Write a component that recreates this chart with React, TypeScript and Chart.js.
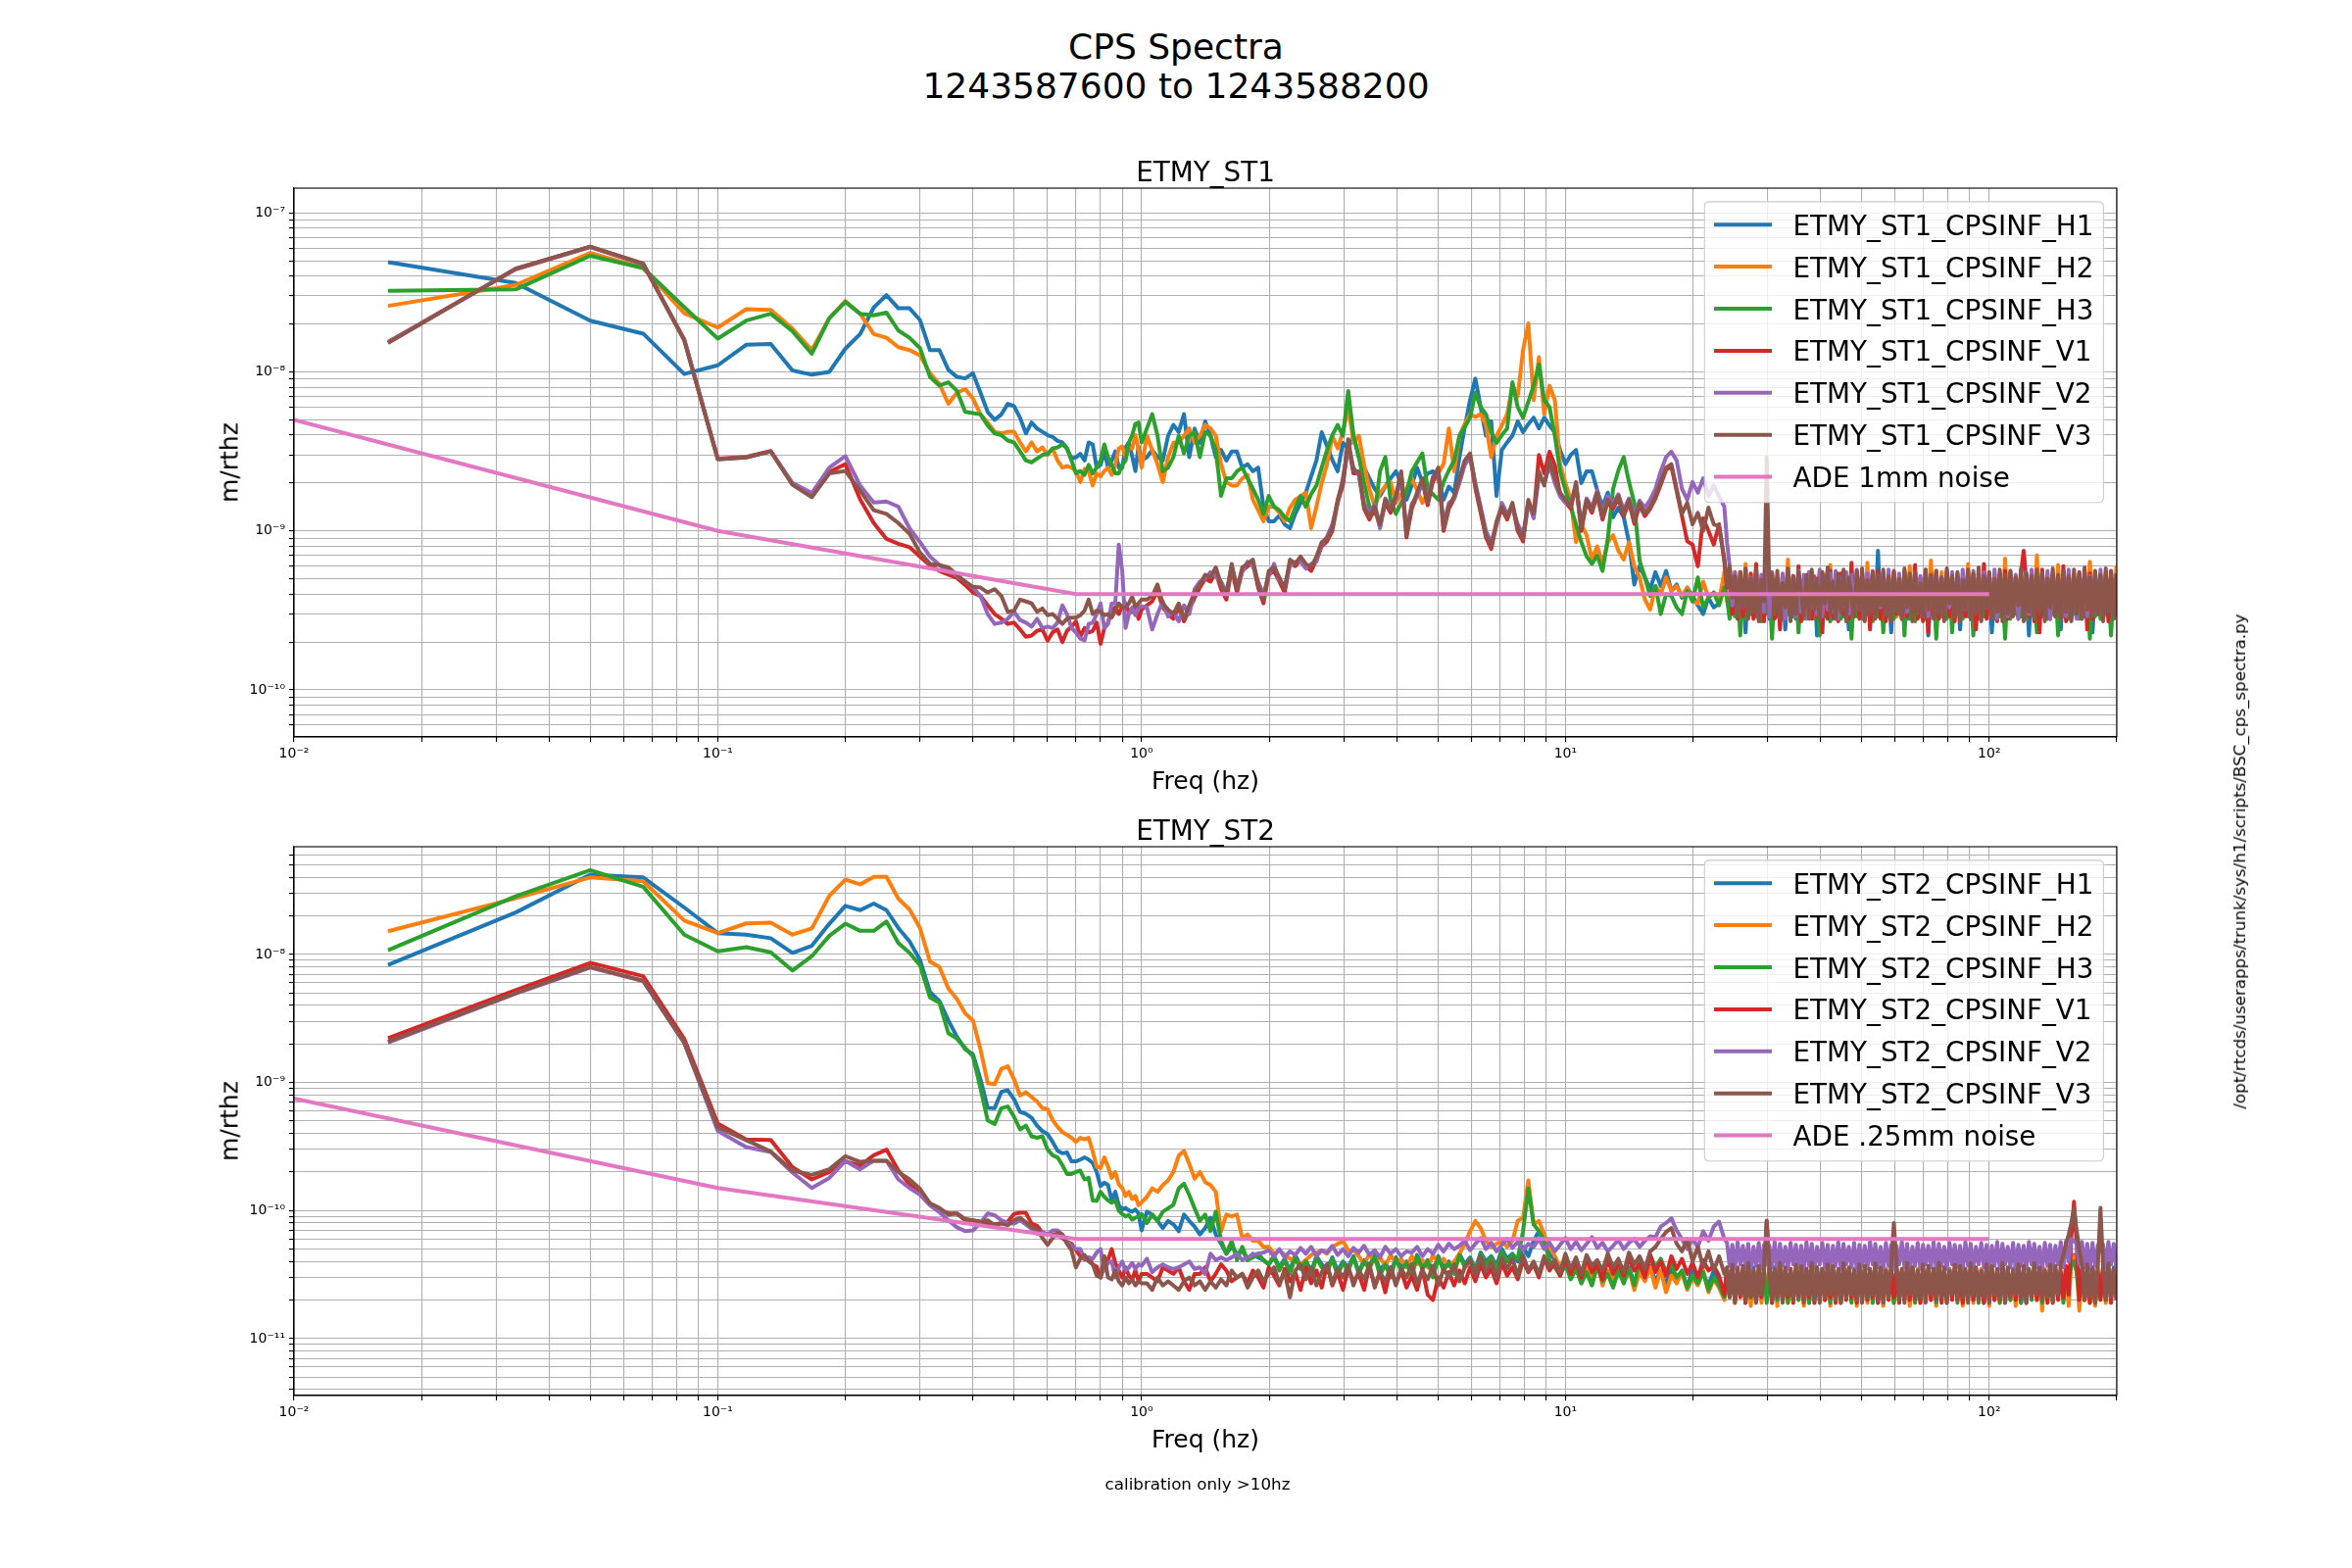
import React, { useEffect, useRef } from "react";
import { Chart, registerables } from "chart.js";

Chart.register(...registerables);

const FONT = "'DejaVu Sans', 'Liberation Sans', sans-serif";

// ---------- frequency grids ----------
// below 1 Hz: native FFT bins of 1/60 Hz
const LF_BINS = 60;
const LF_FREQ = Array.from({ length: LF_BINS }, (_, i) => (i + 1) / 60);
// 1 Hz .. 23.7 Hz: 80 samples per decade
const MID_PER_DECADE = 80;
const MID_COUNT = 110;
const MID_FREQ = Array.from({ length: MID_COUNT }, (_, i) => Math.pow(10, (i + 1) / MID_PER_DECADE));
// 23.7 Hz .. 200 Hz: 160 samples per decade (dense noise floor)
const BAND_PER_DECADE = 160;
const BAND_COUNT = 148;
const BAND_START = MID_COUNT / MID_PER_DECADE;
const BAND_FREQ = Array.from({ length: BAND_COUNT }, (_, i) => Math.pow(10, BAND_START + (i + 1) / BAND_PER_DECADE));

const ST1_UNIT = 1e-11; // ST1 values are in units of 1e-11 m/rthz
const ST2_UNIT = 1e-12; // ST2 values are in units of 1e-12 m/rthz

// ================= ETMY_ST1 =================
const ST1_H1_LF = [
  4900, 3620, 2100, 1740, 970, 1100, 1480, 1500, 1020, 960,
  1000, 1400, 1730, 2540, 3040, 2510, 2510, 2120, 1370, 1370,
  1030, 930, 910, 980, 740, 560, 500, 540, 630, 610,
  514, 410, 480, 440, 420, 400, 390, 368, 360, 330,
  285, 290, 305, 277, 360, 350, 250, 260, 316, 250,
  277, 316, 250, 250, 335, 360, 295, 238, 340, 277,
];
const ST1_H1_MID = [
  291, 323, 291, 277, 397, 464, 418, 542, 291, 440,
  358, 489, 397, 291, 323, 277, 315, 315, 250, 263,
  237, 250, 142, 115, 115, 125, 110, 104, 128, 150,
  174, 220, 277, 418, 341, 280, 237, 358, 330, 397,
  291, 250, 214, 184, 166, 190, 214, 237, 200, 157,
  193, 250, 203, 230, 237, 214, 157, 190, 174, 291,
  450, 665, 907, 600, 397, 489, 166, 323, 360, 397,
  489, 418, 470, 515, 441, 515, 460, 418, 323, 263,
  300, 323, 200, 237, 237, 180, 142, 174, 122, 140,
  122, 85, 46, 60, 51, 43, 55, 45, 56, 42,
  46, 38, 44, 39, 34, 30, 38, 33, 35, 50,
];
const ST1_H1_BAND = [
  40, 29, 48, 30, 46, 28, 47, 23, 45, 30,
  48, 29, 46, 31, 49, 50, 28, 47, 30, 45,
  29, 48, 24, 46, 30, 49, 28, 45, 31, 47,
  29, 46, 30, 48, 22, 50, 29, 46, 30, 47,
  28, 49, 30, 46, 29, 48, 24, 47, 30, 45,
  29, 48, 31, 46, 28, 49, 30, 75, 29, 47,
  30, 46, 23, 48, 29, 47, 30, 45, 28, 49,
  31, 46, 29, 48, 30, 47, 22, 46, 29, 48,
  30, 45, 28, 47, 31, 49, 29, 46, 24, 48,
  30, 46, 29, 49, 28, 47, 30, 45, 31, 48,
  23, 47, 29, 46, 30, 48, 28, 49, 30, 45,
  29, 47, 31, 46, 22, 48, 30, 47, 29, 46,
  30, 49, 28, 46, 29, 47, 24, 48, 30, 45,
  29, 48, 30, 46, 28, 47, 31, 49, 23, 46,
  30, 47, 29, 48, 30, 46, 28, 47,
];
const ST1_H2_LF = [
  2600, 3520, 5600, 4500, 2340, 1900, 2480, 2450, 1870, 1370,
  2180, 2790, 2320, 1730, 1640, 1430, 1370, 1270, 980, 840,
  630, 740, 780, 680, 540, 480, 420, 410, 420, 420,
  360, 316, 360, 316, 335, 300, 330, 277, 250, 255,
  250, 238, 203, 245, 238, 193, 230, 220, 238, 250,
  225, 260, 330, 340, 290, 335, 330, 400, 330, 250,
];
const ST1_H2_MID = [
  397, 323, 263, 203, 291, 358, 358, 397, 441, 358,
  397, 464, 441, 397, 263, 203, 193, 193, 214, 225,
  157, 135, 115, 142, 142, 130, 115, 140, 157, 165,
  174, 104, 142, 200, 263, 397, 330, 418, 600, 358,
  397, 260, 184, 142, 174, 190, 203, 150, 170, 184,
  214, 180, 150, 174, 203, 230, 263, 441, 237, 397,
  470, 542, 520, 542, 464, 291, 397, 460, 542, 818,
  700, 1370, 2016, 665, 1235, 542, 818, 665, 263, 200,
  157, 85, 110, 94, 66, 80, 62, 85, 94, 75,
  66, 85, 60, 51, 37, 32, 45, 40, 51, 42,
  45, 39, 44, 36, 35, 48, 38, 41, 36, 55,
];
const ST1_H2_BAND = [
  36, 52, 31, 55, 30, 50, 31, 62, 30, 53,
  31, 54, 29, 51, 30, 55, 29, 52, 31, 49,
  30, 53, 31, 66, 29, 51, 30, 54, 29, 50,
  31, 55, 30, 52, 29, 48, 31, 53, 30, 61,
  29, 51, 31, 54, 30, 50, 29, 55, 31, 52,
  30, 49, 29, 63, 31, 53, 30, 51, 29, 54,
  31, 50, 30, 55, 29, 52, 31, 48, 30, 60,
  29, 53, 31, 51, 30, 54, 29, 65, 31, 50,
  30, 55, 29, 52, 31, 49, 30, 54, 29, 51,
  31, 62, 30, 53, 29, 50, 31, 55, 30, 52,
  29, 54, 31, 51, 30, 67, 29, 53, 31, 49,
  30, 55, 29, 52, 31, 50, 30, 70, 29, 54,
  31, 51, 30, 53, 29, 61, 31, 50, 30, 55,
  29, 52, 31, 54, 30, 49, 29, 64, 31, 53,
  30, 50, 29, 55, 31, 52, 30, 60,
];
const ST1_H3_LF = [
  3240, 3300, 5370, 4500, 2550, 1620, 2100, 2320, 1800, 1300,
  2180, 2750, 2320, 2270, 2360, 1820, 1640, 1410, 930, 820,
  860, 760, 560, 550, 540, 460, 410, 400, 370, 360,
  316, 277, 270, 285, 300, 305, 330, 335, 350, 330,
  277, 230, 238, 225, 260, 230, 250, 277, 350, 290,
  260, 230, 230, 260, 277, 360, 400, 470, 480, 360,
];
const ST1_H3_MID = [
  441, 542, 397, 237, 250, 291, 397, 307, 397, 418,
  291, 418, 397, 323, 166, 214, 214, 237, 250, 214,
  184, 157, 128, 166, 142, 135, 122, 115, 140, 166,
  142, 170, 193, 250, 323, 400, 464, 397, 757, 397,
  291, 200, 142, 128, 237, 291, 157, 128, 150, 174,
  237, 270, 307, 184, 170, 157, 203, 240, 277, 397,
  450, 515, 738, 600, 542, 418, 358, 400, 441, 861,
  600, 515, 650, 818, 1114, 665, 600, 397, 237, 180,
  142, 110, 85, 69, 62, 70, 56, 89, 184, 240,
  291, 203, 150, 65, 51, 39, 45, 30, 40, 39,
  33, 30, 42, 36, 51, 33, 38, 41, 34, 44,
];
const ST1_H3_BAND = [
  38, 28, 46, 29, 44, 22, 45, 28, 47, 30,
  44, 29, 48, 27, 46, 30, 43, 21, 47, 29,
  45, 28, 46, 30, 44, 29, 47, 23, 45, 28,
  46, 30, 43, 28, 47, 22, 45, 29, 48, 27,
  44, 29, 46, 28, 45, 30, 47, 21, 43, 29,
  47, 28, 45, 30, 46, 27, 44, 29, 48, 23,
  45, 29, 47, 28, 43, 30, 46, 22, 45, 28,
  47, 27, 44, 29, 46, 28, 45, 30, 47, 21,
  43, 29, 46, 28, 45, 23, 47, 30, 44, 28,
  48, 29, 45, 22, 46, 28, 43, 29, 47, 30,
  45, 28, 46, 29, 44, 21, 47, 28, 45, 30,
  46, 29, 43, 28, 47, 30, 45, 23, 48, 29,
  44, 28, 46, 30, 45, 22, 47, 29, 43, 28,
  47, 30, 45, 28, 46, 29, 44, 21, 48, 29,
  45, 28, 47, 30, 43, 22, 46, 29,
];
const ST1_V1_LF = [
  1540, 4420, 6100, 4750, 1600, 285, 292, 318, 198, 165,
  235, 263, 158, 112, 89, 83, 79, 69, 60.7, 56,
  53, 50.6, 45.7, 41, 39, 34, 30, 28, 26, 26.5,
  24, 21.6, 22, 23.5, 24, 20.4, 23, 24, 20, 23.5,
  25, 27, 21.6, 24.5, 23, 23.5, 26.5, 19.5, 24.5, 26.5,
  31.5, 33, 30, 33.5, 35, 31, 31, 34, 28, 32,
];
const ST1_V1_MID = [
  34, 36, 42, 33, 30, 28, 33, 27, 32, 38,
  44, 50, 48, 55, 43, 37, 58, 41, 56, 60,
  63, 44, 35, 53, 56, 48, 41, 63, 60, 66,
  60, 56, 66, 80, 86, 100, 150, 195, 350, 230,
  230, 138, 118, 138, 106, 150, 130, 160, 230, 91,
  138, 168, 206, 145, 206, 240, 100, 138, 160, 206,
  268, 296, 186, 130, 91, 77, 111, 138, 118, 145,
  100, 86, 152, 124, 300, 230, 315, 260, 168, 152,
  138, 196, 100, 152, 130, 168, 118, 152, 138, 160,
  124, 152, 111, 145, 124, 138, 160, 196, 242, 255,
  178, 124, 86, 82, 60, 120, 100, 82, 110, 64,
];
const ST1_V1_BAND = [
  44, 53, 30, 51, 28, 55, 29, 49, 30, 54,
  28, 62, 29, 50, 27, 120, 30, 53, 28, 51,
  24, 50, 29, 54, 28, 52, 30, 60, 27, 49,
  30, 53, 28, 51, 29, 55, 23, 52, 28, 56,
  29, 50, 27, 54, 30, 48, 28, 63, 29, 51,
  28, 55, 30, 49, 24, 53, 29, 56, 28, 50,
  27, 52, 29, 54, 30, 48, 28, 55, 29, 51,
  30, 61, 28, 50, 27, 53, 23, 49, 29, 54,
  28, 51, 30, 56, 29, 48, 27, 53, 28, 50,
  29, 55, 28, 52, 24, 49, 30, 62, 28, 54,
  30, 50, 27, 53, 29, 56, 28, 48, 30, 52,
  28, 54, 75, 49, 29, 55, 27, 51, 23, 57,
  29, 50, 28, 53, 30, 48, 29, 60, 27, 52,
  28, 49, 30, 55, 29, 51, 24, 54, 28, 50,
  30, 53, 28, 49, 27, 56, 29, 51,
];
const ST1_V2_LF = [
  1530, 4450, 6120, 4780, 1590, 283, 290, 316, 200, 173,
  250, 295, 193, 151, 153, 142, 104, 85, 69, 61,
  56, 52, 48, 44, 39, 30, 26, 26.5, 28, 31,
  27.5, 26.5, 25, 28, 24.5, 25, 24.5, 26.5, 34, 30,
  24.5, 23, 21, 20.5, 26, 26.5, 30, 35, 24.5, 26,
  35, 35, 82, 56, 24.5, 30, 33, 29.5, 33, 33.5,
];
const ST1_V2_MID = [
  33, 24, 30, 36, 29, 31, 27, 34, 30, 43,
  48, 50, 55, 52, 48, 41, 60, 45, 55, 64,
  60, 48, 40, 52, 62, 49, 45, 60, 64, 64,
  58, 62, 64, 82, 92, 110, 150, 215, 330, 250,
  225, 150, 128, 148, 104, 160, 140, 158, 220, 100,
  148, 165, 200, 160, 220, 235, 110, 150, 158, 200,
  260, 290, 200, 142, 100, 85, 108, 150, 128, 140,
  110, 95, 150, 120, 220, 200, 260, 200, 165, 150,
  150, 190, 110, 160, 140, 180, 128, 165, 150, 170,
  135, 160, 125, 155, 140, 157, 184, 237, 291, 315,
  277, 184, 157, 203, 174, 214, 166, 193, 165, 142,
];
const ST1_V2_BAND = [
  85, 60, 34, 55, 30, 52, 33, 56, 29, 51,
  32, 57, 28, 53, 31, 120, 29, 55, 33, 50,
  30, 54, 28, 57, 32, 51, 29, 56, 31, 53,
  28, 55, 33, 50, 30, 57, 29, 52, 32, 54,
  31, 56, 28, 51, 33, 55, 30, 53, 29, 57,
  32, 50, 28, 54, 31, 56, 29, 52, 33, 55,
  30, 57, 28, 51, 32, 54, 29, 56, 31, 50,
  28, 55, 33, 52, 30, 57, 29, 53, 32, 56,
  31, 51, 28, 54, 33, 55, 30, 50, 29, 57,
  32, 53, 28, 56, 31, 52, 29, 55, 33, 51,
  30, 57, 28, 54, 32, 50, 29, 56, 31, 53,
  28, 52, 33, 55, 30, 57, 29, 51, 32, 54,
  31, 56, 28, 53, 33, 50, 30, 55, 29, 57,
  32, 51, 28, 54, 31, 56, 29, 52, 33, 55,
  30, 57, 28, 53, 32, 50, 29, 54,
];
const ST1_V3_LF = [
  1520, 4460, 6140, 4800, 1580, 282, 290, 316, 195, 163,
  230, 238, 179, 135, 128, 112, 96, 73, 62, 61,
  59, 53, 48, 44.5, 44, 41, 43, 39, 31, 31.5,
  37, 36, 35, 31, 32.5, 29.5, 30, 28, 26, 28,
  28.5, 28.5, 29.5, 31.5, 37, 30, 31.5, 31, 29.5, 30,
  28.5, 31.5, 35, 33, 33, 35, 38.5, 33.5, 35, 37,
];
const ST1_V3_MID = [
  37, 39, 46, 35, 32, 30, 35, 28, 34, 41,
  46, 53, 51, 59, 46, 39, 62, 43, 59, 62,
  66, 46, 37, 56, 59, 51, 43, 66, 62, 69,
  62, 59, 69, 85, 89, 104, 157, 203, 377, 237,
  237, 142, 122, 142, 110, 157, 135, 166, 237, 94,
  142, 174, 214, 150, 214, 250, 104, 142, 166, 214,
  277, 307, 193, 135, 94, 80, 115, 142, 122, 150,
  104, 89, 157, 128, 237, 193, 277, 214, 174, 157,
  142, 203, 104, 157, 135, 174, 122, 157, 142, 166,
  128, 157, 115, 150, 128, 142, 166, 203, 250, 263,
  184, 128, 150, 110, 130, 100, 140, 110, 107, 67,
];
const ST1_V3_BAND = [
  45, 60, 38, 52, 29, 55, 33, 58, 28, 50,
  31, 57, 27, 49, 36, 290, 40, 54, 30, 56,
  28, 47, 33, 58, 27, 52, 30, 55, 41, 29,
  53, 28, 57, 32, 50, 27, 55, 35, 59, 30,
  48, 28, 54, 31, 57, 27, 51, 38, 29, 56,
  32, 58, 27, 49, 30, 55, 28, 53, 34, 57,
  29, 52, 27, 56, 31, 50, 28, 58, 33, 54,
  27, 55, 30, 47, 29, 57, 32, 53, 28, 56,
  30, 51, 27, 58, 35, 52, 29, 55, 27, 49,
  32, 57, 28, 54, 30, 59, 27, 52, 33, 55,
  28, 50, 31, 57, 27, 53, 30, 56, 29, 51,
  34, 58, 27, 54, 31, 52, 28, 57, 30, 55,
  27, 50, 33, 58, 29, 53, 28, 56, 31, 52,
  27, 57, 30, 54, 28, 59, 32, 51, 29, 56,
  30, 53, 27, 58, 31, 55, 28, 54,
];

// ================= ETMY_ST2 =================
const ST2_H1_LF = [
  8300, 21300, 42000, 40000, 23300, 14700, 14300, 13400, 10300, 11700,
  17400, 24000, 22200, 25000, 22200, 16100, 12700, 9060, 5100, 4340,
  3050, 2280, 1820, 1660, 1060, 633, 630, 845, 870, 740,
  590, 570, 530, 460, 417, 395, 344, 293, 280, 285,
  242, 242, 250, 260, 250, 235, 200, 155, 165, 158,
  120, 140, 110, 102, 105, 100, 98, 102, 95, 70,
];
const ST2_H1_MID = [
  98, 93, 83, 73, 83, 78, 69, 93, 83, 75,
  65, 73, 88, 65, 55, 46, 52, 46, 49, 41,
  46, 43, 41, 38, 44, 36, 42, 34, 45, 37,
  41, 33, 44, 38, 35, 43, 34, 40, 36, 44,
  33, 41, 37, 45, 34, 39, 32, 43, 36, 40,
  34, 45, 37, 41, 33, 44, 36, 40, 34, 46,
  38, 43, 35, 47, 40, 44, 37, 50, 42, 46,
  40, 52, 44, 58, 69, 55, 47, 41, 34, 38,
  30, 36, 28, 34, 27, 38, 30, 33, 26, 35,
  29, 36, 27, 33, 30, 37, 28, 34, 26, 36,
  28, 33, 25, 35, 29, 32, 26, 34, 28, 22,
];
const ST2_H1_BAND = [
  34, 22, 36, 20, 33, 23, 35, 21, 32, 22,
  36, 20, 34, 23, 33, 21, 35, 19, 36, 22,
  33, 20, 35, 22, 34, 21, 32, 23, 36, 20,
  35, 19, 33, 22, 36, 21, 34, 20, 32, 23,
  36, 22, 33, 19, 35, 21, 34, 23, 33, 20,
  32, 21, 36, 22, 34, 20, 35, 19, 33, 22,
  35, 23, 32, 20, 36, 21, 33, 22, 34, 19,
  36, 20, 34, 23, 33, 21, 35, 22, 32, 20,
  34, 22, 36, 19, 35, 21, 33, 23, 36, 20,
  33, 21, 35, 22, 32, 20, 34, 19, 36, 23,
  35, 20, 33, 22, 36, 21, 34, 20, 32, 22,
  36, 19, 35, 23, 33, 21, 34, 22, 35, 20,
  32, 22, 36, 20, 34, 23, 33, 21, 36, 30,
  40, 45, 38, 21, 35, 20, 33, 22, 36, 19,
  34, 23, 35, 20, 33, 22, 36, 21,
];
const ST2_H2_LF = [
  15200, 27500, 40000, 37300, 18400, 14700, 17500, 17700, 14300, 16000,
  28800, 38400, 35300, 40400, 40400, 27300, 22500, 16100, 8800, 7980,
  5430, 4480, 3470, 3050, 1820, 990, 970, 1280, 1340, 1060,
  790, 840, 770, 710, 630, 620, 510, 450, 410, 390,
  370, 344, 370, 360, 370, 290, 220, 215, 260, 220,
  180, 200, 160, 150, 130, 140, 123, 130, 110, 116,
];
const ST2_H2_MID = [
  128, 149, 140, 158, 172, 200, 268, 292, 231, 177,
  200, 167, 158, 140, 69, 93, 90, 93, 61, 65,
  58, 58, 52, 52, 46, 49, 45, 42, 41, 38,
  41, 45, 47, 49, 46, 52, 55, 58, 49, 49,
  44, 38, 46, 40, 43, 37, 45, 39, 42, 36,
  44, 38, 41, 36, 45, 39, 42, 37, 40, 46,
  55, 69, 83, 73, 58, 52, 55, 58, 52, 58,
  83, 88, 172, 78, 83, 65, 52, 44, 36, 42,
  33, 38, 27, 36, 30, 40, 26, 34, 29, 38,
  27, 35, 24, 33, 28, 36, 25, 34, 23, 31,
  27, 33, 24, 30, 26, 34, 23, 29, 25, 20,
];
const ST2_H2_BAND = [
  33, 21, 35, 19, 32, 22, 34, 20, 36, 18,
  32, 21, 35, 19, 33, 22, 31, 20, 34, 18,
  36, 21, 32, 19, 35, 22, 33, 20, 31, 18,
  34, 21, 36, 19, 32, 22, 35, 20, 33, 18,
  31, 21, 34, 19, 36, 22, 32, 20, 35, 18,
  33, 21, 31, 19, 34, 22, 36, 20, 32, 18,
  35, 21, 33, 19, 31, 22, 34, 20, 36, 18,
  32, 21, 35, 19, 33, 22, 31, 20, 34, 18,
  36, 21, 32, 19, 35, 22, 33, 20, 31, 18,
  34, 21, 36, 19, 32, 22, 35, 20, 33, 18,
  31, 21, 34, 19, 36, 22, 32, 20, 35, 18,
  33, 21, 31, 19, 34, 22, 36, 20, 32, 16.5,
  35, 21, 33, 19, 31, 22, 34, 20, 36, 18,
  40, 44, 35, 16.5, 33, 20, 34, 19, 31, 18,
  35, 21, 33, 19, 34, 22, 32, 20,
];
const ST2_H3_LF = [
  10800, 28500, 45700, 33800, 14300, 10600, 11400, 10400, 7500, 9700,
  14000, 17400, 15300, 15300, 18100, 12300, 10300, 8240, 4630, 4200,
  2430, 2200, 1860, 1600, 900, 506, 474, 630, 650, 540,
  430, 460, 380, 370, 380, 300, 270, 260, 227, 193,
  193, 200, 205, 175, 180, 120, 119, 140, 128, 120,
  115, 120, 100, 94, 90, 92, 85, 88, 90, 94,
];
const ST2_H3_MID = [
  80, 93, 83, 98, 104, 111, 149, 162, 132, 104,
  83, 93, 69, 98, 58, 46, 58, 41, 52, 41,
  43, 46, 41, 38, 44, 34, 41, 32, 43, 35,
  40, 31, 43, 36, 33, 42, 31, 39, 34, 43,
  32, 40, 35, 44, 31, 38, 30, 42, 34, 39,
  31, 44, 35, 40, 30, 43, 34, 39, 32, 45,
  36, 42, 33, 46, 38, 43, 35, 48, 40, 45,
  42, 69, 149, 78, 69, 58, 41, 36, 31, 38,
  29, 35, 27, 33, 26, 37, 28, 32, 25, 34,
  27, 35, 26, 41, 34, 45, 36, 42, 33, 38,
  30, 34, 25, 31, 27, 33, 24, 30, 26, 21,
];
const ST2_H3_BAND = [
  32, 21, 34, 20, 31, 22, 33, 19, 35, 21,
  31, 20, 33, 22, 34, 19, 32, 21, 35, 20,
  33, 22, 31, 19, 34, 21, 32, 20, 35, 22,
  31, 19, 33, 21, 34, 20, 32, 22, 35, 19,
  33, 21, 31, 20, 34, 22, 32, 19, 35, 21,
  31, 20, 33, 22, 34, 19, 32, 21, 35, 20,
  33, 22, 31, 19, 34, 21, 32, 20, 35, 22,
  31, 19, 33, 21, 34, 20, 32, 22, 35, 19,
  33, 21, 31, 20, 34, 22, 32, 19, 35, 21,
  31, 20, 33, 22, 34, 19, 32, 21, 35, 20,
  33, 22, 31, 19, 34, 21, 32, 20, 35, 22,
  31, 19, 33, 21, 34, 20, 32, 22, 35, 19,
  33, 21, 31, 20, 34, 22, 32, 19, 35, 28,
  38, 40, 33, 21, 32, 20, 34, 22, 31, 19,
  33, 21, 35, 20, 32, 22, 34, 21,
];
const ST2_V1_LF = [
  2220, 5270, 8600, 6770, 2190, 479, 359, 355, 218, 175,
  200, 242, 225, 270, 299, 206, 160, 136, 112, 102,
  95, 95, 84, 84, 82, 80, 78, 80, 82, 94,
  96, 96, 79, 76, 67, 65, 65, 65, 61, 57,
  55, 49, 44, 41.5, 43, 38, 36.5, 30, 36.5, 41.5,
  50, 39, 34, 30, 36, 31, 29, 34, 28, 32,
];
const ST2_V1_MID = [
  32, 30, 28, 36, 34, 32, 36, 28, 24, 32,
  32, 36, 28, 32, 38, 34, 28, 30, 32, 27,
  34, 30, 25, 36, 31, 26, 35, 28, 33, 24,
  36, 27, 34, 25, 38, 26, 33, 24, 35, 28,
  32, 24, 37, 26, 33, 23, 36, 27, 34, 25,
  31, 24, 35, 22, 20, 30, 25, 33, 26, 34,
  27, 36, 28, 38, 30, 35, 27, 39, 31, 36,
  29, 41, 33, 38, 30, 42, 34, 39, 31, 43,
  32, 40, 30, 42, 33, 38, 29, 41, 32, 39,
  31, 42, 34, 38, 30, 45, 33, 40, 31, 44,
  35, 42, 32, 39, 30, 41, 34, 37, 31, 22,
];
const ST2_V1_BAND = [
  35, 22, 33, 20, 36, 21, 34, 19, 37, 22,
  33, 20, 35, 21, 34, 83, 36, 19, 33, 22,
  37, 20, 34, 21, 35, 19, 33, 22, 36, 20,
  34, 21, 37, 19, 33, 22, 35, 20, 36, 21,
  33, 19, 34, 22, 37, 20, 35, 21, 33, 19,
  36, 22, 34, 20, 33, 21, 37, 19, 35, 22,
  33, 20, 36, 21, 34, 19, 33, 22, 37, 20,
  35, 21, 33, 19, 36, 22, 34, 20, 35, 21,
  37, 19, 34, 22, 33, 20, 36, 21, 34, 19,
  33, 22, 37, 20, 35, 21, 33, 19, 36, 22,
  34, 20, 33, 21, 37, 19, 35, 22, 33, 20,
  36, 21, 34, 19, 33, 22, 37, 20, 35, 21,
  33, 19, 36, 22, 34, 20, 33, 21, 37, 22,
  62, 117, 55, 20, 35, 21, 34, 19, 36, 22,
  33, 20, 37, 21, 34, 19, 35, 22,
];
const ST2_V2_LF = [
  2050, 4950, 7900, 6200, 2040, 419, 313, 287, 198, 150,
  180, 245, 210, 245, 245, 175, 150, 133, 110, 97,
  84, 74, 69, 70, 80, 95, 92, 84, 80, 79,
  84, 78, 72, 66, 68, 65, 70, 70, 65, 57,
  53, 50, 50, 42, 43, 42, 47, 50, 34, 39,
  40, 30, 36, 40, 34, 36, 39, 35, 38, 37,
];
const ST2_V2_MID = [
  42, 33, 36, 38, 36, 35, 36, 38, 40, 35,
  36, 32, 46, 41, 43, 41, 43, 46, 41, 43,
  45, 46, 47, 49, 44, 50, 43, 48, 45, 51,
  46, 52, 44, 49, 47, 53, 45, 50, 44, 51,
  47, 53, 45, 49, 43, 52, 46, 50, 44, 48,
  47, 52, 44, 50, 46, 54, 48, 55, 50, 53,
  58, 49, 55, 61, 50, 56, 48, 54, 60, 51,
  57, 49, 55, 52, 60, 50, 56, 48, 54, 61,
  50, 57, 49, 55, 62, 51, 56, 48, 53, 59,
  50, 56, 60, 52, 58, 63, 62, 75, 80, 87,
  70, 60, 50, 60, 52, 69, 58, 75, 82, 60,
];
const ST2_V2_BAND = [
  56, 37, 54, 35, 57, 38, 53, 36, 55, 34,
  52, 37, 56, 35, 54, 38, 53, 36, 57, 34,
  55, 37, 52, 35, 56, 38, 54, 36, 53, 34,
  57, 37, 55, 35, 52, 38, 56, 36, 54, 34,
  53, 37, 57, 35, 55, 38, 52, 36, 56, 34,
  54, 37, 53, 35, 57, 38, 55, 36, 52, 34,
  56, 37, 54, 35, 53, 38, 57, 36, 55, 34,
  52, 37, 56, 35, 54, 38, 53, 36, 57, 34,
  55, 37, 52, 35, 56, 38, 54, 36, 53, 34,
  57, 37, 55, 35, 52, 38, 56, 36, 54, 34,
  53, 37, 57, 35, 55, 38, 52, 36, 56, 34,
  54, 37, 53, 35, 57, 38, 55, 36, 52, 34,
  56, 37, 54, 35, 53, 38, 57, 36, 58, 40,
  60, 58, 55, 38, 57, 36, 55, 34, 56, 37,
  53, 58, 54, 36, 57, 38, 55, 35,
];
const ST2_V3_LF = [
  2090, 4990, 8000, 6240, 2050, 448, 355, 289, 205, 190,
  210, 266, 240, 245, 245, 200, 175, 148, 114, 105,
  93, 95, 86, 84, 81, 84, 77, 79, 77, 84,
  88, 81, 74, 71, 61, 54, 61, 67, 65, 55,
  49, 36, 42, 45, 40, 38, 31, 30, 44, 30,
  29, 34, 28, 26, 30, 27, 29, 26, 28, 27,
];
const ST2_V3_MID = [
  27, 24, 30, 26, 28, 26, 24, 28, 30, 26,
  28, 24, 28, 25, 29, 26, 34, 30, 32, 25,
  30, 34, 28, 32, 36, 27, 33, 21, 34, 38,
  29, 36, 26, 33, 38, 27, 35, 30, 37, 26,
  34, 29, 38, 25, 33, 28, 36, 26, 35, 30,
  38, 27, 34, 29, 37, 26, 35, 30, 38, 28,
  36, 41, 31, 44, 33, 40, 30, 43, 35, 42,
  31, 45, 34, 40, 32, 44, 36, 41, 33, 46,
  35, 43, 32, 45, 37, 41, 34, 46, 36, 42,
  33, 47, 38, 44, 35, 48, 52, 60, 68, 73,
  55, 48, 60, 40, 52, 36, 48, 34, 44, 32,
];
const ST2_V3_BAND = [
  36, 21, 38, 19, 35, 22, 37, 20, 39, 21,
  34, 19, 37, 22, 36, 83, 38, 20, 35, 21,
  39, 19, 36, 22, 34, 20, 38, 21, 37, 19,
  35, 22, 39, 20, 36, 19, 34, 21, 38, 22,
  37, 20, 35, 19, 39, 21, 36, 22, 34, 20,
  38, 19, 37, 21, 35, 22, 39, 20, 36, 19,
  34, 21, 38, 80, 37, 20, 35, 19, 39, 22,
  36, 20, 34, 21, 38, 19, 37, 22, 35, 20,
  39, 21, 36, 19, 34, 22, 38, 20, 37, 21,
  35, 19, 39, 22, 36, 20, 34, 21, 38, 19,
  37, 22, 35, 20, 39, 19, 36, 21, 34, 22,
  38, 20, 37, 19, 35, 21, 39, 22, 36, 20,
  34, 21, 38, 19, 37, 22, 38, 45, 55, 65,
  80, 105, 70, 50, 38, 20, 38, 21, 35, 19,
  37, 105, 36, 20, 39, 21, 35, 20,
];

// ---------- ADE noise references ----------
const ADE_FREQ = [0.01, 0.1, 0.7, 100];
const ADE_ST1 = [5e-9, 1e-9, 4e-10, 4e-10];
const ADE_ST2 = [7.5e-10, 1.5e-10, 6e-11, 6e-11];

const ST1_LABELS = [
  "ETMY_ST1_CPSINF_H1", "ETMY_ST1_CPSINF_H2", "ETMY_ST1_CPSINF_H3",
  "ETMY_ST1_CPSINF_V1", "ETMY_ST1_CPSINF_V2", "ETMY_ST1_CPSINF_V3",
  "ADE 1mm noise",
];
const ST2_LABELS = [
  "ETMY_ST2_CPSINF_H1", "ETMY_ST2_CPSINF_H2", "ETMY_ST2_CPSINF_H3",
  "ETMY_ST2_CPSINF_V1", "ETMY_ST2_CPSINF_V2", "ETMY_ST2_CPSINF_V3",
  "ADE .25mm noise",
];
const COLORS = ["#1f77b4", "#ff7f0e", "#2ca02c", "#d62728", "#9467bd", "#8c564b", "#e377c2"];

const X_RANGE = [0.01, 200];
const ST1_Y_RANGE = [5.06e-11, 1.43e-7];
const ST2_Y_RANGE = [3.59e-12, 6.95e-8];

// ---------- helpers ----------
function toPoints(lf: number[], mid: number[], band: number[], unit: number) {
  const pts: any[] = [];
  lf.forEach((v, i) => pts.push({ x: LF_FREQ[i], y: v * unit }));
  mid.forEach((v, i) => pts.push({ x: MID_FREQ[i], y: v * unit }));
  band.forEach((v, i) => pts.push({ x: BAND_FREQ[i], y: v * unit }));
  return pts;
}

function buildDatasets(series: any[][], labels: string[], ade: number[]) {
  const ds: any[] = series.map((pts, i) => ({
    label: labels[i],
    data: pts,
    borderColor: COLORS[i],
    backgroundColor: COLORS[i],
    borderWidth: 4,
    pointRadius: 0,
    fill: false,
    tension: 0,
    clip: 0,
    borderJoinStyle: "round",
    order: 7 - i,
  }));
  ds.push({
    label: labels[6],
    data: ADE_FREQ.map((f, i) => ({ x: f, y: ade[i] })),
    borderColor: COLORS[6],
    backgroundColor: COLORS[6],
    borderWidth: 4,
    pointRadius: 0,
    fill: false,
    tension: 0,
    clip: 0,
    order: 0,
  });
  return ds;
}

function logTicks(min: number, max: number) {
  const out: any[] = [];
  for (let e = Math.floor(Math.log10(min)); e <= Math.ceil(Math.log10(max)); e++) {
    for (let m = 1; m <= 9; m++) {
      const v = m * Math.pow(10, e);
      if (v >= min * 0.999999 && v <= max * 1.000001) out.push({ value: v });
    }
  }
  return out;
}

const SUP: any = { "-": "\u207B", "0": "\u2070", "1": "\u00B9", "2": "\u00B2", "3": "\u00B3", "4": "\u2074", "5": "\u2075", "6": "\u2076", "7": "\u2077", "8": "\u2078", "9": "\u2079" };
function decadeLabel(value: number) {
  const e = Math.round(Math.log10(value));
  if (Math.abs(value / Math.pow(10, e) - 1) > 1e-6) return "";
  return "10" + String(e).split("").map((c) => SUP[c]).join("");
}

function axisOptions(min: number, max: number, axis: "x" | "y") {
  return {
    type: "logarithmic",
    position: axis === "x" ? "bottom" : "left",
    min,
    max,
    bounds: "data",
    afterBuildTicks: (s: any) => {
      s.ticks = logTicks(min, max);
    },
    afterFit: (s: any) => {
      if (axis === "x") s.height = 48;
      else s.width = 300;
    },
    ticks: {
      autoSkip: false,
      maxRotation: 0,
      minRotation: 0,
      padding: 4,
      color: "#000",
      font: { family: FONT, size: 14 },
      callback: (v: any) => decadeLabel(Number(v)),
    },
    grid: {
      display: true,
      color: "#b0b0b0",
      lineWidth: 1.1,
      drawTicks: true,
      tickLength: 5,
      tickColor: "#000",
      tickWidth: 1.1,
    },
    border: { display: true, color: "#000", width: 1.1 },
    title: { display: false },
  };
}

function framePlugin(labels: string[]) {
  return {
    id: "frameAndLegend",
    afterDraw(chart: any) {
      const { ctx, chartArea: a } = chart;
      ctx.save();
      ctx.strokeStyle = "#000";
      ctx.lineWidth = 1.1;
      ctx.strokeRect(a.left, a.top, a.right - a.left, a.bottom - a.top);

      ctx.font = `27.8px ${FONT}`;
      const textW = Math.max(...labels.map((l) => ctx.measureText(l).width));
      const boxW = 90.2 + textW + 10;
      const boxH = 306.9;
      const right = a.right - 13.6;
      const left = right - boxW;
      const top = a.top + 13.9;
      const r = 5;
      ctx.beginPath();
      ctx.moveTo(left + r, top);
      ctx.lineTo(right - r, top);
      ctx.quadraticCurveTo(right, top, right, top + r);
      ctx.lineTo(right, top + boxH - r);
      ctx.quadraticCurveTo(right, top + boxH, right - r, top + boxH);
      ctx.lineTo(left + r, top + boxH);
      ctx.quadraticCurveTo(left, top + boxH, left, top + boxH - r);
      ctx.lineTo(left, top + r);
      ctx.quadraticCurveTo(left, top, left + r, top);
      ctx.closePath();
      ctx.fillStyle = "rgba(255,255,255,0.8)";
      ctx.fill();
      ctx.strokeStyle = "#cccccc";
      ctx.lineWidth = 1.1;
      ctx.stroke();

      labels.forEach((label, i) => {
        const y = top + 23.3 + 42.9 * i;
        ctx.beginPath();
        ctx.moveTo(left + 9.7, y);
        ctx.lineTo(left + 68.7, y);
        ctx.strokeStyle = COLORS[i];
        ctx.lineWidth = 4;
        ctx.stroke();
        ctx.fillStyle = "#000";
        ctx.textBaseline = "alphabetic";
        ctx.textAlign = "left";
        ctx.fillText(label, left + 90.2, y + 10.5);
      });
      ctx.restore();
    },
  };
}

function makeConfig(datasets: any[], yRange: number[], labels: string[]): any {
  return {
    type: "line",
    data: { datasets },
    options: {
      animation: false,
      responsive: false,
      maintainAspectRatio: false,
      events: [],
      layout: { padding: { top: 42, right: 240, bottom: 0, left: 0 } },
      plugins: {
        legend: { display: false },
        tooltip: { enabled: false },
        title: { display: false },
      },
      scales: {
        x: axisOptions(X_RANGE[0], X_RANGE[1], "x"),
        y: axisOptions(yRange[0], yRange[1], "y"),
      },
    },
    plugins: [framePlugin(labels)],
  };
}

function Label(props: { x: number; y: number; size: number; rotate?: boolean; children: any }) {
  const { x, y, size, rotate, children } = props;
  return (
    <div
      style={{
        position: "absolute",
        left: x,
        top: y,
        transform: `translate(-50%, -50%)${rotate ? " rotate(-90deg)" : ""}`,
        fontFamily: FONT,
        fontSize: size,
        lineHeight: "normal",
        whiteSpace: "nowrap",
        color: "#000",
      }}
    >
      {children}
    </div>
  );
}

export default function App() {
  const ref1 = useRef<HTMLCanvasElement>(null);
  const ref2 = useRef<HTMLCanvasElement>(null);

  useEffect(() => {
    document.body.style.margin = "0";
    const st1 = buildDatasets(
      [
        toPoints(ST1_H1_LF, ST1_H1_MID, ST1_H1_BAND, ST1_UNIT),
        toPoints(ST1_H2_LF, ST1_H2_MID, ST1_H2_BAND, ST1_UNIT),
        toPoints(ST1_H3_LF, ST1_H3_MID, ST1_H3_BAND, ST1_UNIT),
        toPoints(ST1_V1_LF, ST1_V1_MID, ST1_V1_BAND, ST1_UNIT),
        toPoints(ST1_V2_LF, ST1_V2_MID, ST1_V2_BAND, ST1_UNIT),
        toPoints(ST1_V3_LF, ST1_V3_MID, ST1_V3_BAND, ST1_UNIT),
      ],
      ST1_LABELS,
      ADE_ST1
    );
    const st2 = buildDatasets(
      [
        toPoints(ST2_H1_LF, ST2_H1_MID, ST2_H1_BAND, ST2_UNIT),
        toPoints(ST2_H2_LF, ST2_H2_MID, ST2_H2_BAND, ST2_UNIT),
        toPoints(ST2_H3_LF, ST2_H3_MID, ST2_H3_BAND, ST2_UNIT),
        toPoints(ST2_V1_LF, ST2_V1_MID, ST2_V1_BAND, ST2_UNIT),
        toPoints(ST2_V2_LF, ST2_V2_MID, ST2_V2_BAND, ST2_UNIT),
        toPoints(ST2_V3_LF, ST2_V3_MID, ST2_V3_BAND, ST2_UNIT),
      ],
      ST2_LABELS,
      ADE_ST2
    );
    const c1 = new Chart(ref1.current as any, makeConfig(st1, ST1_Y_RANGE, ST1_LABELS));
    const c2 = new Chart(ref2.current as any, makeConfig(st2, ST2_Y_RANGE, ST2_LABELS));
    return () => {
      c1.destroy();
      c2.destroy();
    };
  }, []);

  return (
    <div style={{ position: "relative", width: 2400, height: 1600, background: "#fff", overflow: "hidden" }}>
      <canvas
        ref={ref1}
        width={2400}
        height={650}
        style={{ position: "absolute", left: 0, top: 150, width: 2400, height: 650 }}
      />
      <canvas
        ref={ref2}
        width={2400}
        height={650}
        style={{ position: "absolute", left: 0, top: 822, width: 2400, height: 650 }}
      />
      <Label x={1200} y={46.8} size={36}>CPS Spectra</Label>
      <Label x={1200} y={86.8} size={36}>1243587600 to 1243588200</Label>
      <Label x={1230} y={174.7} size={27.8}>ETMY_ST1</Label>
      <Label x={1230} y={846.7} size={27.8}>ETMY_ST2</Label>
      <Label x={1230} y={796} size={25}>Freq (hz)</Label>
      <Label x={1230} y={1468} size={25}>Freq (hz)</Label>
      <Label x={233.6} y={472} size={25} rotate>m/rthz</Label>
      <Label x={233.6} y={1144} size={25} rotate>m/rthz</Label>
      <Label x={1222} y={1514.2} size={16.7}>calibration only &gt;10hz</Label>
      <Label x={2285} y={879} size={16.7} rotate>/opt/rtcds/userapps/trunk/sys/h1/scripts/BSC_cps_spectra.py</Label>
    </div>
  );
}
